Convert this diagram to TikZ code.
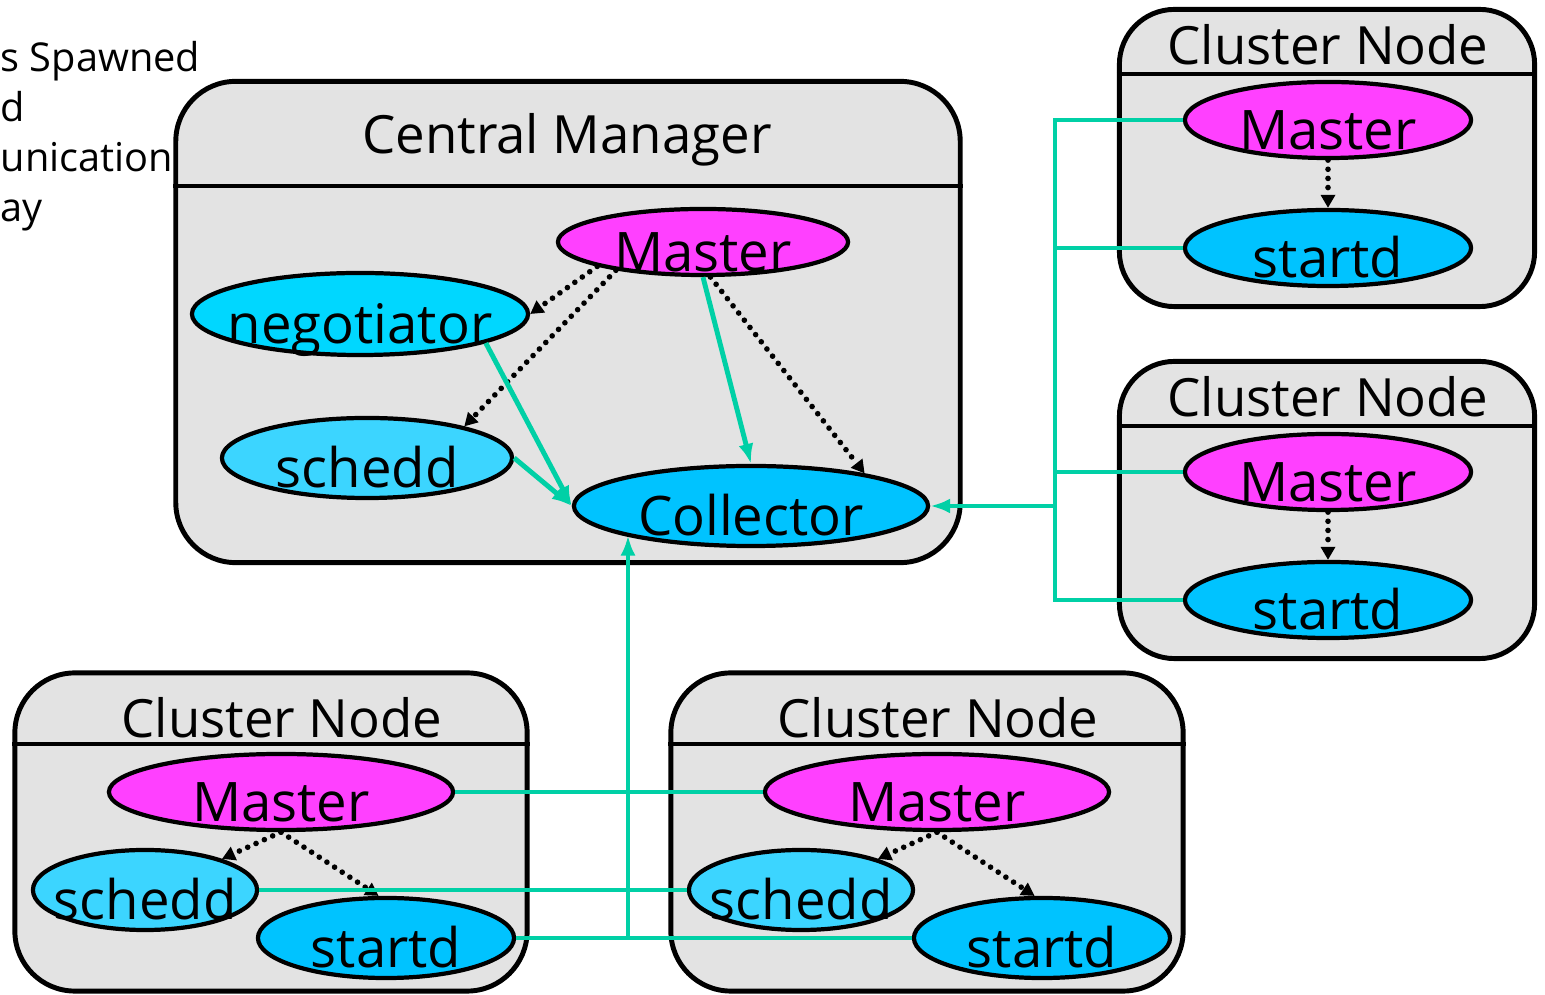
\documentclass[tikz,border=0pt]{standalone}
\usepackage{fontspec}
\setmainfont{Open Sans}
\usepackage{tikz}
\usetikzlibrary{shapes.geometric, positioning, arrows.meta}

\definecolor{boxgray}{RGB}{227,227,227}
\definecolor{mastermag}{RGB}{255,64,255}
\definecolor{negcyan}{RGB}{0,215,255}
\definecolor{scheddcyan}{RGB}{60,213,255}
\definecolor{startcyan}{RGB}{0,195,255}
\definecolor{linkgreen}{RGB}{0,208,166}

% text that may run over the ellipse border
\newcommand{\ptext}[1]{\smash{\raisebox{-0.29cm}{\makebox[0pt]{#1}}}}

\begin{document}
\begin{tikzpicture}[x=0.01cm, y=-0.01cm,
        box/.style={draw, line width=1.4pt, rounded corners=0.55cm, fill=boxgray, inner sep=0pt},
        head/.style={inner sep=0pt, font=\fontsize{15}{17}\selectfont},
        proc/.style={ellipse, draw, line width=1.2pt, inner sep=0pt, font=\fontsize{15.5}{17}\selectfont},
        link/.style={draw=linkgreen, line width=1.4pt, -{Latex[length=0.2cm, width=0.15cm]}},
        wire/.style={draw=linkgreen, line width=1.4pt},
        dots/.style={line width=1.6pt, line cap=round, dash pattern=on 0pt off 2.6pt, -{Triangle[length=0.13cm, width=0.14cm]}}]
    \useasboundingbox (0,0) rectangle (1545,995);

    % text cut at the left edge
    \foreach \t [count=\i] in {s Spawned, d, unication, ay} {
            \node[anchor=base west, inner sep=0pt, font=\fontsize{11.3}{14}\selectfont] (line\i) at (0,22+50*\i) {\t};
        };

    % central manager
    \node[box, rounded corners=0.6cm, minimum width=7.84cm, minimum height=4.81cm] (cm) at (568,322) {};
    \node[head] (cmtitle) at (567,140) {Central Manager};
    \draw[line width=1.4pt] (cm.west |- 0,186) -- (cm.east |- 0,186);
    \node[proc, fill=mastermag, minimum width=2.9cm, minimum height=0.66cm] (cmmaster) at (703,242) {\ptext{Master}};
    \node[proc, fill=negcyan, minimum width=3.36cm, minimum height=0.82cm] (negotiator) at (360,314) {\ptext{negotiator}};
    \node[proc, fill=scheddcyan, minimum width=2.9cm, minimum height=0.8cm] (cmschedd) at (367,458) {\ptext{schedd}};
    \node[proc, fill=startcyan, minimum width=3.54cm, minimum height=0.8cm] (collector) at (751,506) {\ptext{Collector}};

    \draw[dots] (cmmaster.193) -- (negotiator.east);
    \draw[dots] (cmmaster.198) -- (cmschedd.18);
    \draw[dots] (cmmaster.282) -- (collector.16);
    \draw[link] (cmmaster.south) -- (collector.north);
    \draw[link] (negotiator.-13) -- (collector.west);
    \draw[link] (cmschedd.east) -- (collector.west);

    % cluster nodes on the right
    \foreach \n/\y in {1/0, 2/352} {
            \node[box, minimum width=4.15cm, minimum height=2.97cm] (node\n) at (1327,158+\y) {};
            \node[head] (title\n) at (1328,45+\y) {Cluster Node};
            \draw[line width=1.4pt] (node\n.west |- 0,74+\y) -- (node\n.east |- 0,74+\y);
            \node[proc, fill=mastermag, minimum width=2.86cm, minimum height=0.76cm] (master\n) at (1328,120+\y) {\ptext{Master}};
            \node[proc, fill=startcyan, minimum width=2.86cm, minimum height=0.76cm] (startd\n) at (1328,248+\y) {\ptext{startd}};
            \draw[dots] (master\n.south) -- (startd\n.north);
        };

    % cluster nodes at the bottom
    \foreach \n/\x in {3/0, 4/656} {
            \node[box, rounded corners=0.6cm, minimum width=5.12cm, minimum height=3.18cm] (node\n) at (271+\x,832) {};
            \node[head] (title\n) at (282+\x,718) {Cluster Node};
            \draw[line width=1.4pt] (node\n.west |- 0,744) -- (node\n.east |- 0,744);
            \node[proc, fill=mastermag, minimum width=3.44cm, minimum height=0.76cm] (master\n) at (281+\x,792) {\ptext{Master}};
            \node[proc, fill=scheddcyan, minimum width=2.24cm, minimum height=0.8cm] (schedd\n) at (145+\x,890) {\ptext{schedd}};
            \node[proc, fill=startcyan, minimum width=2.56cm, minimum height=0.8cm] (startd\n) at (386+\x,938) {\ptext{startd}};
            \draw[dots] (master\n.south) -- (schedd\n.22);
            \draw[dots] (master\n.south) -- (startd\n.100);
        };

    % links to the collector
    \coordinate (bus) at (1055,506);
    \draw[wire] (master1) -- (master1 -| bus) -- (startd2 -| bus) -- (startd2);
    \draw[wire] (startd1) -- (startd1 -| bus);
    \draw[wire] (master2) -- (master2 -| bus);
    \draw[link] (bus) -- (collector);

    \coordinate (joint) at (628,938);
    \draw[wire] (master3) -- (master4);
    \draw[wire] (schedd3) -- (schedd4);
    \draw[wire] (startd3) -- (startd4);
    \draw[link] (joint) -- (joint |- collector.193);
\end{tikzpicture}
\end{document}
